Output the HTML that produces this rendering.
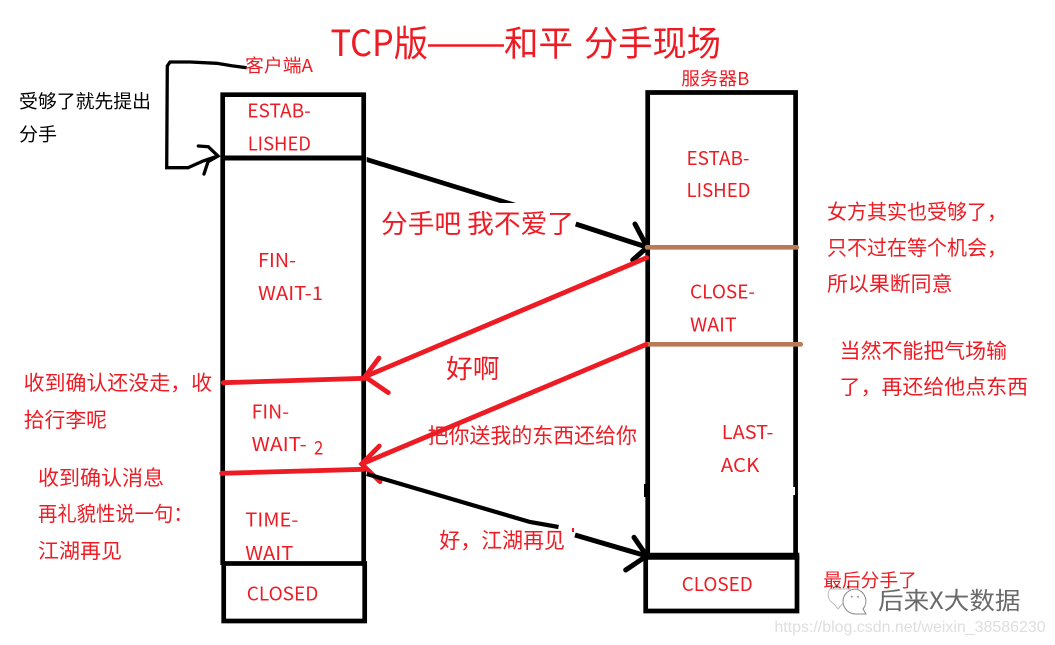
<!DOCTYPE html>
<html><head><meta charset="utf-8"><style>
html,body{margin:0;padding:0;background:#fff;width:1055px;height:645px;overflow:hidden}
svg{display:block}
text{font-family:"Noto Sans CJK SC","Liberation Sans",sans-serif;fill:#ed1c24;font-size:19px}
.k{fill:#000}
.n{font-size:20.500px}
</style></head><body>
<svg width="1055" height="645" viewBox="0 0 1055 645" xmlns="http://www.w3.org/2000/svg">
<rect width="1055" height="645" fill="#fff"/>
<g fill="none" stroke="#000" stroke-width="4.700">
<path d="M222.700 565V94.700H363.700V565"/>
<rect x="223.700" y="563.500" width="141" height="57.500"/>
<path d="M647.700 556V92.500H795.600V556"/>
<path d="M645.700 556V611H797V556"/>
</g>
<path d="M643.300 556.300H799.300" stroke="#000" stroke-width="7"/>
<path d="M222 158H366" stroke="#000" stroke-width="5"/>
<rect x="644" y="484" width="2" height="13" fill="#000"/>
<rect x="793" y="487" width="2" height="8" fill="#fff"/>
<!-- self loop -->
<path d="M246.700 67.700L231.700 65.700L216.700 63.300L190 62L170 62L167.300 66L166.700 167.700L188 167.700L203 161L218 156" fill="none" stroke="#000" stroke-width="3.300"/>
<path d="M198.300 146L208.300 146.700L218 156L208 161.700L204 174" fill="none" stroke="#000" stroke-width="3.300" stroke-linecap="round"/>
<!-- black arrows -->
<path d="M366.700 157L516 203L500 203L366.700 162Z" fill="#000"/>
<path d="M575.700 224L647.300 247.300" fill="none" stroke="#000" stroke-width="5"/>
<path d="M635 224L647.300 247.300L632.700 260" fill="none" stroke="#000" stroke-width="5" stroke-linecap="round"/>
<!-- brown -->
<path d="M647 247.300H796.700M646 344.300H800.700" stroke="#b97a57" stroke-width="4.700" stroke-linecap="round"/>
<!-- red arrows -->
<g fill="none" stroke="#ed1c24" stroke-width="4.800" stroke-linecap="round">
<path d="M646.700 257.700L365 376.700"/>
<path d="M379 358L365 376.700L388.300 392.700"/>
<path d="M646 344.500L361.700 464"/>
<path d="M379.300 446L361.700 464L380 481.700"/>
<path d="M223.300 382.700L365 378.300"/>
<path d="M221.700 473.300L363.300 469.300"/>
</g>
<path d="M366.700 474L530 522L558.500 527" fill="none" stroke="#000" stroke-width="4.200"/>
<path d="M575 535L646.700 556" fill="none" stroke="#000" stroke-width="5"/>
<path d="M634 537.300L646.700 556L625.700 570" fill="none" stroke="#000" stroke-width="5" stroke-linecap="round"/>
<rect x="572" y="528" width="2" height="4" fill="#ed1c24"/>
<!-- title -->
<text x="330.500" y="56" style="font-size:36px" textLength="97.500" lengthAdjust="spacingAndGlyphs">TCP版</text>
<path d="M428 45.500H504" stroke="#ed1c24" stroke-width="2.500"/>
<text x="504" y="56" style="font-size:35px" textLength="69" lengthAdjust="spacingAndGlyphs">和平</text>
<text x="584" y="56" style="font-size:35px" textLength="137" lengthAdjust="spacingAndGlyphs">分手现场</text>
<text x="245" y="72" style="font-size:18px" textLength="68" lengthAdjust="spacingAndGlyphs">客户端A</text>
<text x="681.300" y="85" style="font-size:18px" textLength="68" lengthAdjust="spacingAndGlyphs">服务器B</text>
<text class="k" x="19" y="108" style="font-size:18.500px" textLength="132" lengthAdjust="spacingAndGlyphs">受够了就先提出</text>
<text class="k" x="19" y="141" style="font-size:18.500px" textLength="38" lengthAdjust="spacingAndGlyphs">分手</text>
<!-- left states -->
<text x="247.300" y="117.700" textLength="63.400" lengthAdjust="spacingAndGlyphs">ESTAB-</text>
<text x="247.700" y="150.700" textLength="63.300" lengthAdjust="spacingAndGlyphs">LISHED</text>
<text x="258" y="267" textLength="38" lengthAdjust="spacingAndGlyphs">FIN-</text>
<text x="258" y="300" textLength="65" lengthAdjust="spacingAndGlyphs">WAIT-1</text>
<text x="251.700" y="418.300" textLength="37.300" lengthAdjust="spacingAndGlyphs">FIN-</text>
<text x="251.700" y="451" textLength="55" lengthAdjust="spacingAndGlyphs">WAIT-</text>
<text x="314" y="454.700" textLength="9.300" lengthAdjust="spacingAndGlyphs">2</text>
<text x="245.300" y="526.700" textLength="53" lengthAdjust="spacingAndGlyphs">TIME-</text>
<text x="245.300" y="560" textLength="48" lengthAdjust="spacingAndGlyphs">WAIT</text>
<text x="246.700" y="600.700" textLength="71.600" lengthAdjust="spacingAndGlyphs">CLOSED</text>
<!-- right states -->
<text x="686.500" y="165" textLength="63" lengthAdjust="spacingAndGlyphs">ESTAB-</text>
<text x="686.500" y="197" textLength="64" lengthAdjust="spacingAndGlyphs">LISHED</text>
<text x="690" y="298.700" textLength="65" lengthAdjust="spacingAndGlyphs">CLOSE-</text>
<text x="690" y="331.700" textLength="46.700" lengthAdjust="spacingAndGlyphs">WAIT</text>
<text x="721.800" y="439" textLength="51.600" lengthAdjust="spacingAndGlyphs">LAST-</text>
<text x="720.800" y="472" textLength="38.500" lengthAdjust="spacingAndGlyphs">ACK</text>
<text x="681.700" y="591" textLength="71" lengthAdjust="spacingAndGlyphs">CLOSED</text>
<!-- notes -->
<text x="381" y="233" style="font-size:26px" textLength="193" lengthAdjust="spacingAndGlyphs">分手吧 我不爱了</text>
<text class="n" x="827" y="219" textLength="180" lengthAdjust="spacingAndGlyphs">女方其实也受够了，</text>
<text class="n" x="827" y="255" textLength="180" lengthAdjust="spacingAndGlyphs">只不过在等个机会，</text>
<text class="n" x="827" y="291" textLength="125.500" lengthAdjust="spacingAndGlyphs">所以果断同意</text>
<text class="n" x="839.700" y="358" textLength="167.300" lengthAdjust="spacingAndGlyphs">当然不能把气场输</text>
<text class="n" x="839.700" y="394" textLength="188.300" lengthAdjust="spacingAndGlyphs">了，再还给他点东西</text>
<text x="446" y="378" style="font-size:26px" textLength="53.600" lengthAdjust="spacingAndGlyphs">好啊</text>
<text x="427.600" y="443" style="font-size:21px" textLength="209.400" lengthAdjust="spacingAndGlyphs">把你送我的东西还给你</text>
<text x="439.400" y="548" style="font-size:21.500px" textLength="125.600" lengthAdjust="spacingAndGlyphs">好，江湖再见</text>
<text class="n" x="23.700" y="390" textLength="188.300" lengthAdjust="spacingAndGlyphs">收到确认还没走，收</text>
<text class="n" x="23.700" y="427" textLength="83.300" lengthAdjust="spacingAndGlyphs">拾行李呢</text>
<text class="n" x="38" y="485" textLength="126" lengthAdjust="spacingAndGlyphs">收到确认消息</text>
<text class="n" x="38" y="521" textLength="154.700" lengthAdjust="spacingAndGlyphs">再礼貌性说一句：</text>
<text class="n" x="38" y="558" textLength="84" lengthAdjust="spacingAndGlyphs">江湖再见</text>
<text x="823.300" y="587" style="font-size:18.500px" textLength="93.400" lengthAdjust="spacingAndGlyphs">最后分手了</text>
<!-- watermark -->
<g fill="#fff" stroke="#999" stroke-width="1">
<path d="M830 589C826 595 829 601 834 604L838 609L843 603L850 603L850 589Z" stroke="#bbb"/>
<path d="M856 589A13 12.500 0 1 0 856 614L866 614L863 609A13 12.500 0 0 0 856 589Z" stroke="#888"/>
</g>
<circle cx="836.700" cy="586.700" r="1" fill="#333"/><circle cx="848" cy="587" r="1" fill="#333"/>
<circle cx="851.700" cy="596.700" r="1" fill="#999"/><circle cx="858" cy="596.700" r="1" fill="#999"/>
<text x="878" y="609" style="font-size:24px;fill:#6a6a6a" textLength="142.500" lengthAdjust="spacingAndGlyphs">后来X大数据</text>
<text x="774.400" y="632" style="font-family:'Liberation Sans',sans-serif;font-size:16px;fill:#dedede" textLength="271.200" lengthAdjust="spacingAndGlyphs">https://blog.csdn.net/weixin_38586230</text>
</svg>
</body></html>
